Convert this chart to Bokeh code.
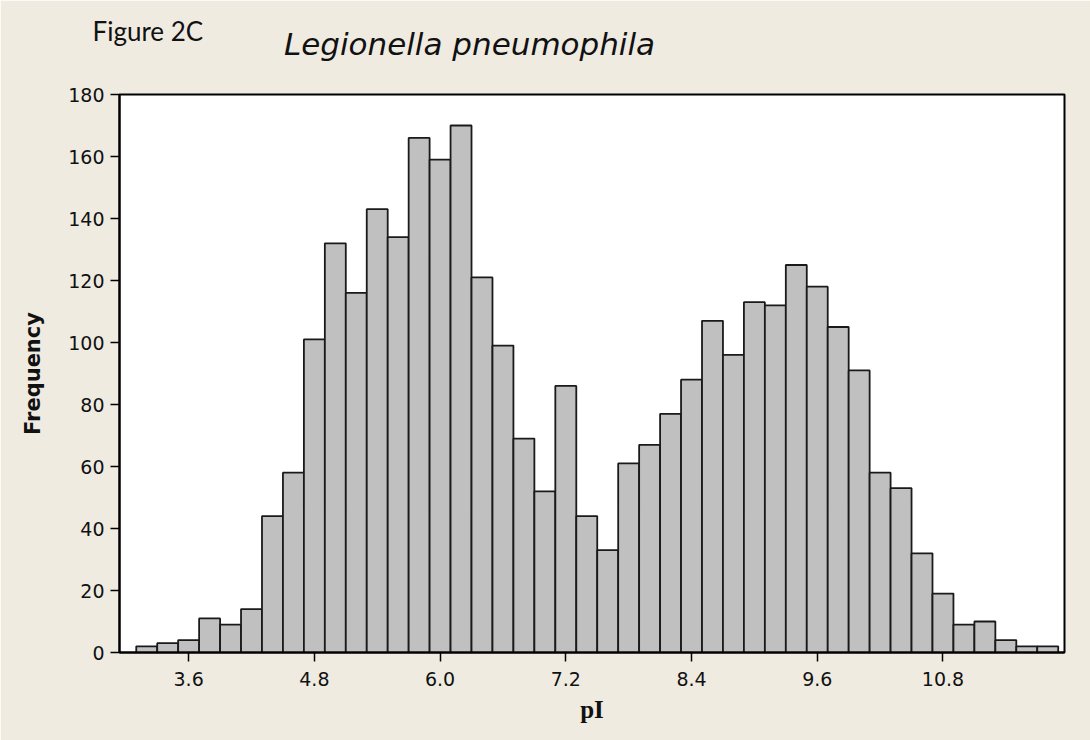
from bokeh.plotting import figure
from bokeh.models import (Range1d, FixedTicker, ColumnDataSource, PrintfTickFormatter,
                          Title, LinearAxis)
from bokeh.embed import file_html
from bokeh.resources import INLINE

# ---- data ----
bin_start = 3.1
bin_width = 0.2
counts = [2, 3, 4, 11, 9, 14, 44, 58, 101, 132, 116, 143, 134, 166, 159, 170,
          121, 99, 69, 52, 86, 44, 33, 61, 67, 77, 88, 107, 96, 113, 112, 125,
          118, 105, 91, 58, 53, 32, 19, 9, 10, 4, 2, 2]
x_ticks = [3.6, 4.8, 6.0, 7.2, 8.4, 9.6, 10.8]
y_ticks = [0, 20, 40, 60, 80, 100, 120, 140, 160, 180]
title_text = "Legionella pneumophila"
figure_tag = "Figure 2C"
x_label = "pI"
y_label = "Frequency"

lefts = [round(bin_start + i * bin_width, 3) for i in range(len(counts))]
rights = [round(l + bin_width, 3) for l in lefts]
src = ColumnDataSource(dict(left=lefts, right=rights, top=counts, bottom=[0] * len(counts)))

BG = "#EFEBE1"
TITLE_POS = 6.281  # horizontal centre of the italic title, in x-axis units

p = figure(width=1090, height=740, output_backend="svg", toolbar_location=None,
           x_range=Range1d(2.94, 11.96), y_range=Range1d(0, 180))
p.min_border_left = 119
p.min_border_right = 26
p.min_border_top = 94
p.min_border_bottom = 88
p.background_fill_color = "white"
p.border_fill_color = BG
p.outline_line_color = "black"
p.outline_line_width = 2
p.xgrid.visible = False
p.ygrid.visible = False

p.quad(left="left", right="right", top="top", bottom="bottom", source=src,
       fill_color="#C0C0C0", line_color="#1a1a1a", line_width=1.8)

for ax in (p.xaxis[0], p.yaxis[0]):
    ax.axis_line_color = "black"
    ax.axis_line_width = 2
    ax.major_tick_line_color = "black"
    ax.major_tick_line_width = 1.5
    ax.major_tick_out = 9
    ax.major_tick_in = 0
    ax.minor_tick_line_color = None
    ax.major_label_text_font = "DejaVu Sans"
    ax.major_label_text_font_size = "19px"
    ax.major_label_text_color = "#111111"

p.xaxis.major_label_standoff = 10
p.yaxis.major_label_standoff = 6

p.xaxis.ticker = FixedTicker(ticks=x_ticks)
p.xaxis.formatter = PrintfTickFormatter(format="%.1f")
p.yaxis.ticker = FixedTicker(ticks=y_ticks)
p.yaxis.formatter = PrintfTickFormatter(format="%d")

p.xaxis.axis_label = x_label
p.xaxis.axis_label_text_font = "Liberation Serif"
p.xaxis.axis_label_text_font_style = "bold"
p.xaxis.axis_label_text_font_size = "25px"
p.xaxis.axis_label_text_color = "#111111"
p.xaxis.axis_label_standoff = 7

p.yaxis.axis_label = y_label
p.yaxis.axis_label_text_font = "DejaVu Sans"
p.yaxis.axis_label_text_font_style = "bold"
p.yaxis.axis_label_text_font_size = "21px"
p.yaxis.axis_label_text_color = "#111111"
p.yaxis.axis_label_standoff = 20

# italic chart title, drawn as the single label of an invisible top axis
top_ax = LinearAxis(ticker=FixedTicker(ticks=[TITLE_POS]),
                    major_label_overrides={TITLE_POS: title_text})
top_ax.axis_line_color = None
top_ax.major_tick_line_color = None
top_ax.minor_tick_line_color = None
top_ax.major_tick_out = 0
top_ax.major_tick_in = 0
top_ax.major_label_standoff = 33
top_ax.major_label_text_font = "DejaVu Sans"
top_ax.major_label_text_font_style = "italic"
top_ax.major_label_text_font_size = "31px"
top_ax.major_label_text_color = "#111111"
p.add_layout(top_ax, "above")

# figure tag above it
p.add_layout(Title(text=figure_tag, align="left", offset=-27, standoff=-48,
                   text_font="Lato", text_font_style="normal",
                   text_font_size="26px", text_color="#111111"), "above")

open("out.html", "w").write(file_html(p, INLINE))
